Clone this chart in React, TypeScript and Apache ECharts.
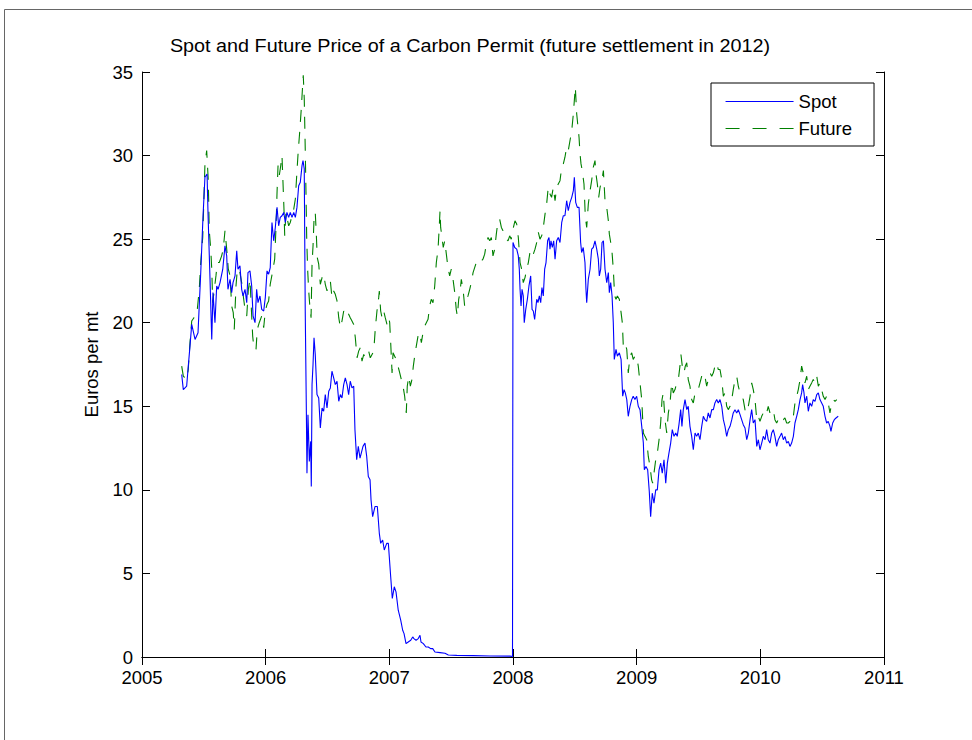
import React, { useEffect, useRef } from "react";
import * as echarts from "echarts";

const titleText = "Spot and Future Price of a Carbon Permit (future settlement in 2012)";
const yAxisName = "Euros per mt";
const seriesNames = ["Spot", "Future"];
const xTicks = { min: 2005, max: 2011, interval: 1 };
const yTicks = { min: 0, max: 35, interval: 5 };

// [decimal year, euros per mt]
const spot: [number, number][] = [
  [2005.321,16.9],[2005.334,16.0],[2005.361,16.2],[2005.372,17.2],[2005.388,18.6],[2005.402,19.9],[2005.429,19.0],[2005.453,19.4],
  [2005.475,23.0],[2005.493,26.3],[2005.509,28.7],[2005.526,28.9],[2005.534,26.5],[2005.550,22.6],[2005.564,19.0],[2005.574,21.8],
  [2005.590,20.0],[2005.604,22.2],[2005.615,22.0],[2005.631,22.4],[2005.653,23.2],[2005.671,24.6],[2005.685,24.0],[2005.695,22.0],
  [2005.712,22.6],[2005.725,21.8],[2005.736,22.4],[2005.752,22.8],[2005.766,24.3],[2005.776,23.2],[2005.792,23.4],[2005.806,22.0],
  [2005.817,21.6],[2005.833,22.0],[2005.847,21.2],[2005.857,23.0],[2005.873,23.1],[2005.887,22.2],[2005.898,20.4],[2005.914,20.0],
  [2005.927,22.0],[2005.938,21.2],[2005.954,21.6],[2005.968,20.8],[2005.984,20.7],[2005.997,21.5],[2006.011,23.1],[2006.024,22.9],
  [2006.037,23.3],[2006.051,26.0],[2006.065,24.9],[2006.078,25.7],[2006.092,26.9],[2006.105,25.8],[2006.118,26.3],[2006.132,26.4],
  [2006.146,26.6],[2006.159,26.0],[2006.172,26.6],[2006.186,26.3],[2006.199,26.6],[2006.213,26.3],[2006.227,26.6],[2006.240,26.3],
  [2006.253,26.9],[2006.267,28.2],[2006.280,28.4],[2006.294,29.4],[2006.302,29.7],[2006.312,29.2],[2006.320,20.7],[2006.329,14.7],
  [2006.334,11.0],[2006.342,14.5],[2006.353,11.7],[2006.364,12.9],[2006.369,10.2],[2006.375,16.3],[2006.383,17.5],[2006.391,19.1],
  [2006.401,18.1],[2006.415,15.7],[2006.429,15.5],[2006.442,13.7],[2006.456,14.9],[2006.469,14.7],[2006.482,15.7],[2006.496,14.9],
  [2006.510,15.9],[2006.523,16.1],[2006.536,17.1],[2006.550,16.7],[2006.563,16.3],[2006.577,16.5],[2006.591,15.3],[2006.604,15.7],
  [2006.617,15.5],[2006.631,16.3],[2006.644,16.7],[2006.658,16.3],[2006.671,15.7],[2006.684,16.5],[2006.698,16.1],[2006.712,16.2],
  [2006.722,13.6],[2006.736,11.8],[2006.749,12.6],[2006.763,11.9],[2006.787,12.6],[2006.803,12.8],[2006.817,12.0],[2006.830,10.8],
  [2006.844,10.6],[2006.852,9.4],[2006.865,8.4],[2006.884,9.0],[2006.903,9.0],[2006.919,7.4],[2006.930,6.8],[2006.946,7.0],
  [2006.959,6.4],[2006.979,6.8],[2006.992,6.8],[2007.011,4.8],[2007.024,3.5],[2007.040,4.2],[2007.054,3.9],[2007.072,2.8],
  [2007.092,2.2],[2007.108,1.6],[2007.119,1.4],[2007.135,0.8],[2007.153,0.9],[2007.173,1.0],[2007.189,1.2],[2007.199,1.1],
  [2007.216,1.0],[2007.234,1.1],[2007.248,1.3],[2007.256,0.9],[2007.275,0.8],[2007.296,0.6],[2007.315,0.6],[2007.334,0.5],
  [2007.351,0.5],[2007.369,0.3],[2007.410,0.26],[2007.450,0.22],[2007.477,0.12],[2007.545,0.1],[2007.677,0.08],[2007.814,0.06],
  [2007.976,0.05],[2007.996,0.03],[2008.000,24.8],[2008.014,24.5],[2008.030,24.4],[2008.043,24.0],[2008.051,23.2],[2008.057,22.0],
  [2008.065,21.0],[2008.073,22.0],[2008.083,21.6],[2008.091,20.0],[2008.103,20.8],[2008.116,21.4],[2008.129,22.2],[2008.143,22.8],
  [2008.154,20.8],[2008.164,20.7],[2008.175,20.2],[2008.192,21.4],[2008.202,21.2],[2008.213,21.6],[2008.224,21.2],[2008.234,22.1],
  [2008.245,21.6],[2008.256,23.2],[2008.267,23.6],[2008.280,24.9],[2008.291,25.1],[2008.299,24.4],[2008.307,24.9],[2008.318,24.5],
  [2008.329,24.9],[2008.340,23.8],[2008.353,24.9],[2008.366,25.1],[2008.380,24.8],[2008.394,26.0],[2008.407,26.4],[2008.420,26.4],
  [2008.434,27.3],[2008.447,26.7],[2008.461,27.2],[2008.475,27.5],[2008.488,27.9],[2008.496,28.7],[2008.507,27.2],[2008.520,26.9],
  [2008.534,26.9],[2008.547,24.8],[2008.555,24.2],[2008.568,24.5],[2008.582,23.6],[2008.590,22.0],[2008.596,21.2],[2008.609,22.6],
  [2008.623,23.2],[2008.636,24.4],[2008.649,24.5],[2008.663,24.9],[2008.677,24.4],[2008.690,23.8],[2008.698,22.8],[2008.709,23.2],
  [2008.720,24.8],[2008.731,24.9],[2008.744,23.2],[2008.758,22.4],[2008.771,23.0],[2008.779,21.8],[2008.790,22.4],[2008.801,21.6],
  [2008.811,20.0],[2008.819,17.8],[2008.833,18.4],[2008.844,18.0],[2008.860,18.2],[2008.874,17.8],[2008.887,15.6],[2008.898,16.0],
  [2008.908,15.8],[2008.920,15.4],[2008.932,14.4],[2008.946,15.0],[2008.960,15.4],[2008.972,15.6],[2008.986,15.4],[2009.000,15.6],
  [2009.013,15.0],[2009.027,14.8],[2009.041,13.8],[2009.054,12.8],[2009.062,11.2],[2009.075,11.4],[2009.089,11.2],[2009.102,9.9],
  [2009.113,8.4],[2009.126,9.8],[2009.140,9.2],[2009.154,10.0],[2009.167,10.0],[2009.181,11.2],[2009.194,11.6],[2009.207,11.0],
  [2009.221,11.8],[2009.235,10.4],[2009.248,11.6],[2009.261,12.2],[2009.275,12.8],[2009.288,13.6],[2009.302,13.2],[2009.316,13.4],
  [2009.328,13.2],[2009.342,13.9],[2009.356,14.8],[2009.366,13.8],[2009.377,14.8],[2009.391,15.4],[2009.405,14.8],[2009.417,15.0],
  [2009.431,13.8],[2009.445,13.2],[2009.458,12.4],[2009.472,13.4],[2009.485,13.2],[2009.498,13.4],[2009.512,13.0],[2009.526,13.8],
  [2009.539,14.4],[2009.552,14.2],[2009.566,14.1],[2009.579,14.6],[2009.593,14.3],[2009.607,14.8],[2009.620,14.8],[2009.633,15.2],
  [2009.647,15.4],[2009.660,15.2],[2009.674,15.4],[2009.688,15.0],[2009.701,14.2],[2009.714,13.8],[2009.728,13.2],[2009.741,13.6],
  [2009.755,13.8],[2009.769,14.2],[2009.781,14.6],[2009.795,14.8],[2009.809,14.6],[2009.822,14.8],[2009.836,14.5],[2009.849,14.2],
  [2009.862,13.9],[2009.876,13.7],[2009.890,13.0],[2009.903,13.4],[2009.917,14.2],[2009.930,14.8],[2009.943,14.0],[2009.957,14.2],
  [2009.971,12.6],[2009.984,13.0],[2009.997,12.4],[2010.011,12.8],[2010.024,13.2],[2010.038,13.0],[2010.051,13.6],[2010.064,13.0],
  [2010.078,12.8],[2010.092,13.4],[2010.105,13.6],[2010.118,13.2],[2010.132,12.6],[2010.145,13.0],[2010.159,13.2],[2010.172,13.4],
  [2010.186,13.0],[2010.199,13.2],[2010.213,12.8],[2010.226,12.9],[2010.240,12.6],[2010.253,12.8],[2010.267,13.2],[2010.280,14.0],
  [2010.294,14.4],[2010.307,14.8],[2010.321,15.4],[2010.334,15.8],[2010.342,16.3],[2010.353,15.8],[2010.361,15.2],[2010.375,15.6],
  [2010.388,14.7],[2010.401,15.2],[2010.415,15.0],[2010.428,15.4],[2010.442,15.3],[2010.456,15.7],[2010.469,15.8],[2010.482,15.4],
  [2010.496,15.2],[2010.509,15.0],[2010.523,14.4],[2010.536,14.0],[2010.549,14.1],[2010.563,13.8],[2010.571,13.5],[2010.585,14.0],
  [2010.598,14.2],[2010.612,14.3],[2010.630,14.4]
];

const future: [number, number][] = [
  [2005.321,17.4],[2005.334,16.8],[2005.361,16.6],[2005.374,17.2],[2005.388,18.8],[2005.402,20.1],[2005.420,20.3],[2005.442,20.4],
  [2005.463,22.0],[2005.475,23.6],[2005.491,25.1],[2005.501,27.5],[2005.509,29.5],[2005.523,30.3],[2005.536,28.5],[2005.544,25.5],
  [2005.556,24.4],[2005.564,23.2],[2005.572,21.2],[2005.585,22.0],[2005.598,22.8],[2005.609,23.6],[2005.625,23.6],[2005.644,24.0],
  [2005.657,24.4],[2005.671,25.5],[2005.685,24.4],[2005.698,23.2],[2005.712,22.8],[2005.725,21.0],[2005.738,20.6],[2005.746,19.6],
  [2005.760,22.2],[2005.771,23.2],[2005.787,23.2],[2005.806,22.4],[2005.819,21.6],[2005.833,20.8],[2005.847,20.4],[2005.860,22.0],
  [2005.873,22.6],[2005.887,20.4],[2005.895,19.2],[2005.906,18.4],[2005.922,18.4],[2005.932,19.6],[2005.948,20.0],[2005.968,20.4],
  [2005.984,19.7],[2005.997,20.7],[2006.011,21.1],[2006.024,21.3],[2006.037,22.3],[2006.057,23.1],[2006.073,23.8],[2006.084,25.8],
  [2006.092,27.8],[2006.100,29.4],[2006.110,28.8],[2006.122,29.4],[2006.132,30.0],[2006.140,28.4],[2006.148,26.8],[2006.154,25.2],
  [2006.164,26.6],[2006.175,26.2],[2006.186,25.8],[2006.199,26.0],[2006.213,26.4],[2006.227,26.8],[2006.240,27.4],[2006.251,28.8],
  [2006.261,30.0],[2006.275,31.4],[2006.288,32.8],[2006.299,34.2],[2006.304,34.8],[2006.312,33.4],[2006.320,30.4],[2006.326,27.8],
  [2006.332,25.0],[2006.340,23.1],[2006.348,21.9],[2006.356,21.1],[2006.367,20.3],[2006.375,23.5],[2006.383,24.6],[2006.391,26.2],
  [2006.401,26.6],[2006.409,25.4],[2006.417,23.9],[2006.429,23.5],[2006.442,22.3],[2006.456,22.7],[2006.469,22.9],[2006.482,22.3],
  [2006.496,21.9],[2006.510,22.3],[2006.523,22.5],[2006.536,21.5],[2006.550,21.9],[2006.563,21.7],[2006.577,21.3],[2006.591,20.3],
  [2006.604,19.7],[2006.617,20.1],[2006.631,20.7],[2006.644,20.5],[2006.658,20.7],[2006.671,20.5],[2006.684,20.3],[2006.698,20.1],
  [2006.712,19.9],[2006.725,19.1],[2006.739,17.9],[2006.752,18.3],[2006.765,18.5],[2006.779,17.7],[2006.793,18.1],[2006.806,17.9],
  [2006.819,18.1],[2006.833,18.3],[2006.846,17.9],[2006.860,18.1],[2006.874,18.3],[2006.887,19.7],[2006.900,20.7],[2006.914,21.5],
  [2006.919,21.9],[2006.930,20.7],[2006.941,20.3],[2006.954,20.7],[2006.967,20.3],[2006.981,19.9],[2006.995,20.3],[2007.003,20.0],
  [2007.011,18.8],[2007.022,17.0],[2007.030,18.2],[2007.043,18.0],[2007.056,17.8],[2007.070,17.4],[2007.084,17.0],[2007.097,16.6],
  [2007.111,16.2],[2007.124,15.6],[2007.137,14.6],[2007.145,16.2],[2007.157,16.8],[2007.170,16.2],[2007.183,16.6],[2007.194,17.4],
  [2007.205,18.0],[2007.218,18.6],[2007.232,19.2],[2007.246,19.4],[2007.259,18.8],[2007.272,19.4],[2007.286,19.8],[2007.299,20.0],
  [2007.313,20.2],[2007.326,21.0],[2007.339,21.4],[2007.353,21.2],[2007.367,22.2],[2007.380,23.6],[2007.394,24.4],[2007.402,25.5],
  [2007.410,26.7],[2007.415,25.7],[2007.426,25.1],[2007.436,24.5],[2007.448,24.9],[2007.461,24.1],[2007.474,23.3],[2007.488,22.8],
  [2007.501,23.2],[2007.515,22.6],[2007.529,21.8],[2007.541,20.8],[2007.550,20.4],[2007.561,21.4],[2007.571,21.8],[2007.582,22.6],
  [2007.596,22.0],[2007.609,21.0],[2007.622,21.4],[2007.636,21.6],[2007.650,22.0],[2007.663,22.4],[2007.677,23.0],[2007.690,23.3],
  [2007.703,23.6],[2007.717,23.8],[2007.731,23.8],[2007.744,23.7],[2007.757,23.8],[2007.771,24.1],[2007.784,24.7],[2007.798,25.1],
  [2007.812,24.9],[2007.825,25.1],[2007.838,24.0],[2007.852,24.4],[2007.865,25.3],[2007.879,26.1],[2007.892,26.2],[2007.906,25.7],
  [2007.919,25.5],[2007.933,25.2],[2007.946,25.0],[2007.960,24.9],[2007.973,25.2],[2007.986,25.0],[2008.000,25.6],[2008.016,26.1],
  [2008.030,25.9],[2008.043,25.1],[2008.057,23.6],[2008.070,23.2],[2008.083,22.4],[2008.097,22.7],[2008.111,23.2],[2008.124,23.6],
  [2008.137,24.2],[2008.151,24.4],[2008.164,24.1],[2008.178,24.4],[2008.192,24.8],[2008.205,25.4],[2008.218,25.0],[2008.232,25.2],
  [2008.245,25.7],[2008.259,26.5],[2008.272,27.1],[2008.285,28.1],[2008.299,27.7],[2008.312,27.5],[2008.326,28.1],[2008.340,27.3],
  [2008.353,28.1],[2008.366,28.3],[2008.380,28.5],[2008.394,29.3],[2008.407,29.5],[2008.420,29.9],[2008.434,30.5],[2008.447,30.3],
  [2008.461,30.9],[2008.475,31.5],[2008.488,32.5],[2008.496,33.3],[2008.504,34.1],[2008.515,32.5],[2008.523,31.9],[2008.534,31.1],
  [2008.542,30.1],[2008.550,29.5],[2008.560,29.1],[2008.574,28.3],[2008.585,26.3],[2008.596,25.7],[2008.609,27.1],[2008.623,27.9],
  [2008.636,28.5],[2008.649,29.3],[2008.663,29.7],[2008.671,28.9],[2008.682,28.3],[2008.693,27.5],[2008.704,28.1],[2008.718,28.5],
  [2008.731,29.1],[2008.744,27.3],[2008.758,26.9],[2008.771,26.1],[2008.779,25.3],[2008.790,24.8],[2008.801,24.2],[2008.811,23.2],
  [2008.822,21.6],[2008.833,21.4],[2008.844,21.6],[2008.860,21.4],[2008.874,20.6],[2008.884,20.0],[2008.892,18.6],[2008.905,18.8],
  [2008.920,18.4],[2008.932,17.0],[2008.946,18.0],[2008.960,18.2],[2008.972,17.8],[2008.986,18.0],[2009.000,18.0],[2009.013,17.4],
  [2009.027,16.4],[2009.041,15.4],[2009.054,13.4],[2009.067,13.2],[2009.081,13.0],[2009.094,12.0],[2009.108,11.4],[2009.121,10.6],
  [2009.129,10.4],[2009.140,11.0],[2009.154,11.8],[2009.167,12.2],[2009.181,13.0],[2009.194,14.0],[2009.205,15.4],[2009.215,15.8],
  [2009.229,14.2],[2009.243,13.4],[2009.256,14.6],[2009.270,15.2],[2009.283,16.4],[2009.296,15.8],[2009.310,16.0],[2009.324,16.4],
  [2009.337,16.6],[2009.350,17.4],[2009.358,18.1],[2009.369,17.4],[2009.383,17.0],[2009.393,17.4],[2009.405,17.6],[2009.417,16.6],
  [2009.431,16.2],[2009.445,15.4],[2009.458,15.2],[2009.472,15.8],[2009.485,15.8],[2009.498,16.0],[2009.512,16.4],[2009.526,16.8],
  [2009.539,16.6],[2009.552,16.8],[2009.566,16.2],[2009.579,16.6],[2009.593,17.0],[2009.607,16.8],[2009.620,17.0],[2009.633,17.4],
  [2009.647,17.6],[2009.660,17.2],[2009.674,17.2],[2009.688,16.6],[2009.701,15.6],[2009.714,15.8],[2009.728,15.0],[2009.741,14.8],
  [2009.755,15.0],[2009.769,15.4],[2009.781,16.0],[2009.795,16.6],[2009.809,16.8],[2009.822,16.2],[2009.836,15.8],[2009.849,15.6],
  [2009.862,15.4],[2009.876,14.8],[2009.890,14.6],[2009.903,15.0],[2009.917,15.6],[2009.930,16.4],[2009.943,16.0],[2009.957,15.4],
  [2009.971,14.2],[2009.984,14.4],[2009.997,14.1],[2010.011,14.4],[2010.024,14.6],[2010.038,14.8],[2010.051,14.6],[2010.064,15.0],
  [2010.078,14.6],[2010.092,14.8],[2010.105,14.8],[2010.118,14.2],[2010.132,14.0],[2010.145,14.2],[2010.159,14.4],[2010.172,14.2],
  [2010.186,14.2],[2010.199,14.3],[2010.213,14.0],[2010.226,14.0],[2010.240,14.1],[2010.253,14.0],[2010.267,14.4],[2010.280,15.2],
  [2010.294,15.6],[2010.307,16.0],[2010.321,16.6],[2010.334,17.4],[2010.347,17.0],[2010.361,16.4],[2010.375,16.8],[2010.388,16.0],
  [2010.401,16.2],[2010.415,16.4],[2010.428,16.6],[2010.442,16.4],[2010.456,16.8],[2010.469,16.2],[2010.482,16.4],[2010.496,16.0],
  [2010.509,15.6],[2010.523,15.4],[2010.536,15.6],[2010.549,15.2],[2010.563,14.6],[2010.577,15.2],[2010.590,15.4],[2010.604,15.3],
  [2010.618,15.4]
];

const FONT = '"Liberation Sans", Arial, sans-serif';
const SPOT_COLOR = "#0000ff";
const FUTURE_COLOR = "#008000";

export default function App() {
  const ref = useRef<HTMLDivElement>(null);
  useEffect(() => {
    document.body.style.margin = "0";
    if (!ref.current) return;
    const chart = echarts.init(ref.current, null, { renderer: "svg" });
    const grid = { left: 142, top: 72, right: 88, bottom: 83 };
    const tickLabel = { fontFamily: FONT, fontSize: 18.5, color: "#000" };
    const baseAxisLine = { show: true, lineStyle: { color: "#000", width: 1 } };
    const tick = { show: true, inside: true, length: 8, lineStyle: { color: "#000", width: 1 } };
    chart.setOption({
      animation: false,
      backgroundColor: "#fff",
      grid: { ...grid, containLabel: false },
      graphic: [
        { type: "line", shape: { x1: 4.5, y1: 9.5, x2: 972, y2: 9.5 }, style: { stroke: "#666", lineWidth: 1 } },
        { type: "line", shape: { x1: 4.5, y1: 9.5, x2: 4.5, y2: 740 }, style: { stroke: "#666", lineWidth: 1 } },
        {
          type: "text",
          x: 470,
          y: 46,
          scaleX: 1.07,
          style: {
            text: titleText,
            font: `18.5px ${FONT}`,
            fill: "#000",
            textAlign: "center",
            textVerticalAlign: "middle",
            align: "center",
            verticalAlign: "middle",
          },
        },
      ],
      legend: {
        left: 711,
        top: 83,
        orient: "vertical",
        itemWidth: 68,
        itemHeight: 14,
        itemGap: 8,
        padding: [9, 22, 8, 14],
        borderColor: "#000",
        borderWidth: 1,
        backgroundColor: "#fff",
        itemStyle: { opacity: 0, color: "transparent", borderWidth: 0 },
        textStyle: { fontFamily: FONT, fontSize: 18.5, color: "#000" },
        data: [
          { name: seriesNames[0], lineStyle: { color: SPOT_COLOR, width: 1.1, type: "solid" } },
          { name: seriesNames[1], lineStyle: { color: FUTURE_COLOR, width: 1.1, type: [14, 13] } },
        ],
      },
      xAxis: [
        {
          type: "value",
          min: xTicks.min,
          max: xTicks.max,
          interval: xTicks.interval,
          position: "bottom",
          axisLine: baseAxisLine,
          axisTick: tick,
          splitLine: { show: false },
          axisLabel: { ...tickLabel, margin: 11, formatter: (v: number) => String(v) },
        },
        {
          type: "value",
          min: xTicks.min,
          max: xTicks.max,
          interval: xTicks.interval,
          position: "top",
          axisLine: baseAxisLine,
          axisTick: tick,
          splitLine: { show: false },
          axisLabel: { show: false },
        },
      ],
      yAxis: [
        {
          type: "value",
          min: yTicks.min,
          max: yTicks.max,
          interval: yTicks.interval,
          position: "left",
          name: yAxisName,
          nameLocation: "middle",
          nameRotate: 90,
          nameGap: 41,
          nameTextStyle: { fontFamily: FONT, fontSize: 18.5, color: "#000" },
          axisLine: baseAxisLine,
          axisTick: tick,
          splitLine: { show: false },
          axisLabel: { ...tickLabel, margin: 9 },
        },
        {
          type: "value",
          min: yTicks.min,
          max: yTicks.max,
          interval: yTicks.interval,
          position: "right",
          axisLine: baseAxisLine,
          axisTick: tick,
          splitLine: { show: false },
          axisLabel: { show: false },
        },
      ],
      series: [
        {
          name: seriesNames[0],
          type: "line",
          data: spot,
          symbol: "none",
          showSymbol: false,
          lineStyle: { color: SPOT_COLOR, width: 1.1 },
          itemStyle: { color: SPOT_COLOR },
          z: 3,
        },
        {
          name: seriesNames[1],
          type: "line",
          data: future,
          symbol: "none",
          showSymbol: false,
          lineStyle: { color: FUTURE_COLOR, width: 1.1, type: [12, 10] },
          itemStyle: { color: FUTURE_COLOR },
          z: 2,
        },
      ],
    });
    return () => chart.dispose();
  }, []);
  return <div ref={ref} style={{ width: 972, height: 740 }} />;
}
